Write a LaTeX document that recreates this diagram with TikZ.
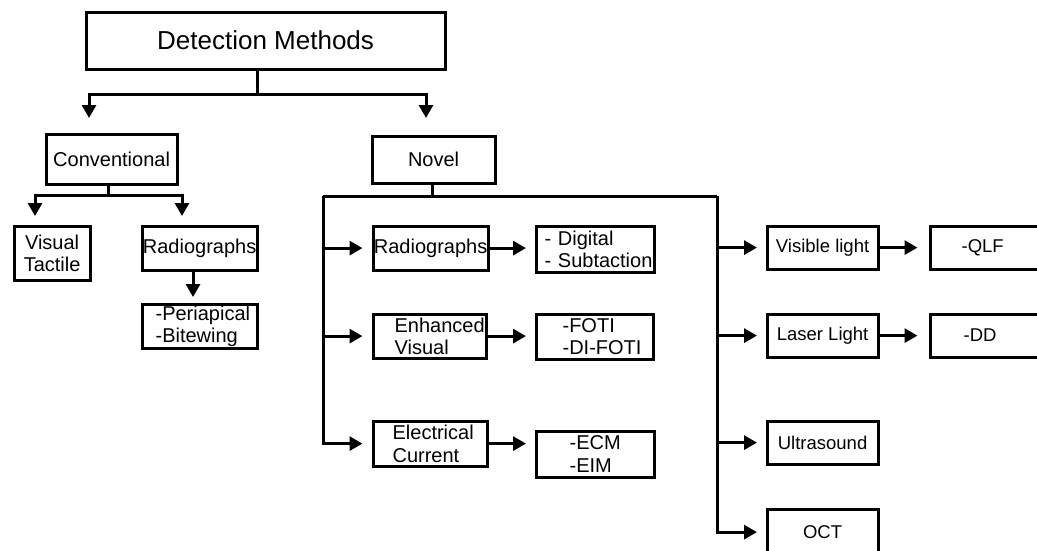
\documentclass[tikz,border=0pt]{standalone}
\usepackage{fontspec}
\setmainfont{Liberation Sans}
\usetikzlibrary{arrows.meta,calc}
\begin{document}
\begin{tikzpicture}[x=1pt,y=-1pt,
  box/.style={draw,line width=3.2pt,inner sep=0pt,anchor=north west,align=center},
  lbox/.style={box,align=left},
  bigf/.style={font=\fontsize{26}{28}\selectfont},
  midf/.style={font=\fontsize{20}{22.5}\selectfont},
  smlf/.style={font=\fontsize{18.5}{21}\selectfont},
  conn/.style={line width=3pt},
  arr/.style={conn,-{Triangle[width=14pt,length=13pt]}},
  ]
\useasboundingbox (0,0) rectangle (1037,550);

% boxes
\node[box,bigf,minimum width=359,minimum height=57] (DM) at (84.5,10.5) {Detection Methods};
\node[box,midf,minimum width=131,minimum height=50] (Conv) at (44.5,132.5) {Conventional};
\node[box,midf,minimum width=123,minimum height=47] (Novel) at (370.5,134.5) {Novel};

\node[box,midf,minimum width=76,minimum height=54] (VT) at (12.5,224.5) {Visual\\Tactile};
\node[box,midf,minimum width=115,minimum height=44] (RadC) at (140.5,224.5) {Radiographs};
\node[lbox,midf,inner xsep=13.5,text width=88,minimum height=44] (Peri) at (140.5,302.5) {\mbox{-Periapical}\\\mbox{-Bitewing}};

\node[box,midf,minimum width=115,minimum height=44] (Rad2) at (371.5,224.5) {Radiographs};
\node[lbox,midf,inner xsep=8.5,text width=101,minimum height=46] (Dig) at (534.5,224.5) {\mbox{- Digital}\\\mbox{- Subtaction}};
\node[lbox,midf,inner xsep=21.5,text width=70,minimum height=44] (Enh) at (371.5,312.5) {\mbox{Enhanced}\\\mbox{Visual}};
\node[lbox,midf,inner xsep=26.5,text width=64,minimum height=45] (Foti) at (534.5,312.5) {\mbox{-FOTI}\\\mbox{-DI-FOTI}};
\node[lbox,midf,inner xsep=19.5,text width=75,minimum height=45] (Elec) at (371.5,419.5) {\mbox{Electrical}\\\mbox{Current}};
\node[lbox,midf,inner xsep=33.5,text width=51,minimum height=46] (Ecm) at (534.5,429.5) {\mbox{-ECM}\\\mbox{-EIM}};

\node[box,smlf,minimum width=111,minimum height=43] (Vis) at (765.5,224.5) {Visible light};
\node[lbox,smlf,inner xsep=31.5,text width=50,minimum height=43] (Qlf) at (928.5,224.5) {\mbox{-QLF}};
\node[box,smlf,minimum width=111,minimum height=43] (Las) at (765.5,312.5) {Laser Light};
\node[lbox,smlf,inner xsep=33.5,text width=46,minimum height=43] (Dd) at (928.5,312.5) {\mbox{-DD}};
\node[box,smlf,minimum width=111,minimum height=43] (Ult) at (765.5,419.5) {Ultrasound};
\node[box,smlf,minimum width=111,minimum height=46] (Oct) at (765.5,507.5) {OCT};

% junctions and free arrow ends
\coordinate (dmj) at (257,94);
\coordinate (t1) at (89,118);
\coordinate (t2) at (426,118);
\coordinate (cj) at (108,195);
\coordinate (t3) at (35,216);
\coordinate (t4) at (182,216);
\coordinate (t5) at (193,297);
\coordinate (nj) at (432,196);
\coordinate (nl) at (323,196);
\coordinate (nr) at (717,196);

% top level
\draw[conn] (DM.south -| dmj) -- (dmj);
\draw[arr] (dmj) -| (t1);
\draw[arr] (dmj) -| (t2);

% conventional
\draw[conn] (Conv.south -| cj) -- (cj);
\draw[arr] (cj) -| (t3);
\draw[arr] (cj) -| (t4);
\draw[arr] (RadC.south -| t5) -- (t5);

% novel
\draw[conn] (Novel.south -| nj) -- (nj);
\draw[conn] (nl) -- (nr);
\draw[arr,shorten >=9pt] (nl) |- (Elec.west);
\draw[arr,shorten >=9pt] (nl |- Rad2.west) -- (Rad2.west);
\draw[arr,shorten >=9pt] (nl |- Enh.west) -- (Enh.west);
\draw[arr,shorten >=8.5pt] (nr) |- (Oct.west);
\draw[arr,shorten >=8.5pt] (nr |- Vis.west) -- (Vis.west);
\draw[arr,shorten >=8.5pt] (nr |- Las.west) -- (Las.west);
\draw[arr,shorten >=8.5pt] (nr |- Ult.west) -- (Ult.west);

% second level arrows
\draw[arr,shorten >=8.5pt] (Rad2.east) -- (Rad2.east -| Dig.west);
\draw[arr,shorten >=8.5pt] (Enh.east) -- (Enh.east -| Foti.west);
\draw[arr,shorten >=8.5pt] (Elec.east) -- (Elec.east -| Ecm.west);
\draw[arr,shorten >=11pt] (Vis.east) -- (Vis.east -| Qlf.west);
\draw[arr,shorten >=11pt] (Las.east) -- (Las.east -| Dd.west);
\end{tikzpicture}
\end{document}
